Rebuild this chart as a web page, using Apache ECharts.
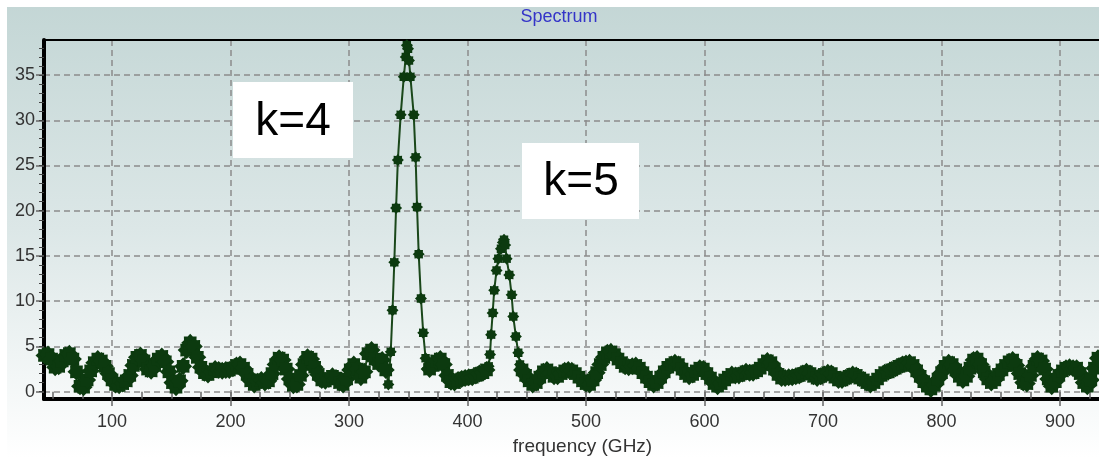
<!DOCTYPE html>
<html><head><meta charset="utf-8">
<script src="https://cdn.jsdelivr.net/npm/echarts@6/dist/echarts.min.js"></script>
<style>html,body{margin:0;padding:0;background:#fff}#c{width:1099px;height:458px}</style>
</head><body><div id="c"></div>
<script>
// ---- chart text ----
const chartTitle = 'Spectrum';
const xAxisName = 'frequency (GHz)';
const annotations = ['k=4', 'k=5'];

// ---- tick labels ----
const xTickLabels = [100, 200, 300, 400, 500, 600, 700, 800, 900];
const xMinorTicks = [50, 75, 100, 125, 150, 175, 200, 225, 250, 275, 300, 325, 350, 375, 400, 425, 450, 475, 500, 525, 550, 575, 600, 625, 650, 675, 700, 725, 750, 775, 800, 825, 850, 875, 900, 925];
const yTickLabels = [0, 5, 10, 15, 20, 25, 30, 35];
const yMinorTicks = [0, 1, 2, 3, 4, 5, 6, 7, 8, 9, 10, 11, 12, 13, 14, 15, 16, 17, 18, 19, 20, 21, 22, 23, 24, 25, 26, 27, 28, 29, 30, 31, 32, 33, 34, 35, 36, 37, 38];

// ---- series values ----
// baseline 43..331 GHz, sampled every 3 GHz
const baseAStart = 43, baseAStep = 3;
const baseAValues = [
  4.0, 4.1, 3.6, 2.7, 2.8, 3.4, 4.0, 4.2, 3.6, 2.2,
  0.6, 0.5, 1.3, 2.3, 3.2, 3.6, 3.4, 2.8, 2.0, 1.3,
  0.8, 0.7, 0.9, 1.2, 1.8, 2.9, 3.8, 4.0, 3.4, 2.5,
  2.3, 2.9, 3.6, 3.9, 3.3, 2.2, 1.0, 0.5, 1.2, 2.8,
  4.6, 5.4, 5.0, 3.8, 2.7, 2.1, 1.9, 2.2, 2.5, 2.4,
  2.3, 2.4, 2.4, 2.6, 2.9, 3.0, 2.6, 1.9, 1.2, 0.8,
  1.1, 1.3, 1.0, 1.2, 2.0, 3.0, 3.7, 3.5, 2.5, 1.4,
  0.7, 0.8, 1.8, 3.0, 3.8, 3.6, 2.7, 1.9, 1.3, 1.2,
  1.4, 1.7, 1.5, 1.0, 0.8, 1.4, 2.4, 3.0, 2.5, 1.6,
  2.2, 4.2, 4.6, 3.6, 3.1, 3.5, 2.4
];
// k=4 peak: [frequency, amplitude]
const peakK4 = [
  [333.2, 0.8], [335.2, 4.4], [336.7, 9.0], [338.2, 14.3], [339.7, 20.3], [341.2, 25.6],
  [343.6, 30.6], [346.2, 34.8], [347.9, 37.0], [348.8, 38.3], [349.8, 37.9], [350.6, 36.6],
  [351.8, 34.8], [354.6, 30.6], [356.2, 25.9], [357.4, 20.4], [358.8, 15.2], [360.7, 10.3],
  [362.6, 6.5], [364.6, 3.7], [366.4, 2.6]
];
// baseline 368..416 GHz, every 3 GHz
const baseBStart = 368, baseBStep = 3;
const baseBValues = [2.5, 2.9, 3.4, 3.6, 3.0, 1.8, 1.1, 1.0, 1.3, 1.4, 1.5, 1.6, 1.6, 1.8, 2.0, 2.1, 2.4];
// k=5 peak
const peakK5 = [
  [417.8, 2.8], [419.0, 4.1], [419.9, 6.3], [421.2, 8.7], [422.5, 11.2], [424.5, 13.4],
  [426.0, 14.7], [428.2, 15.8], [429.8, 16.5], [430.8, 16.8], [431.8, 16.2], [433.0, 14.7],
  [435.2, 12.9], [437.2, 10.7], [438.6, 8.3], [440.8, 6.1], [442.8, 4.3], [444.3, 3.0]
];
// baseline 446..932 GHz, every 3 GHz
const baseCStart = 446, baseCStep = 3;
const baseCValues = [
  2.4, 1.8, 1.2, 0.8, 1.0, 1.6, 2.2, 2.4, 2.1, 1.7,
  1.7, 2.0, 2.3, 2.4, 2.3, 2.0, 1.6, 1.2, 0.9, 0.8,
  1.3, 2.1, 3.0, 3.8, 4.3, 4.4, 4.1, 3.6, 3.2, 2.8,
  2.7, 2.8, 2.9, 2.6, 2.1, 1.6, 1.1, 0.8, 1.0, 1.6,
  2.2, 2.7, 3.0, 3.2, 3.0, 2.5, 2.0, 1.7, 1.9, 2.3,
  2.6, 2.5, 2.0, 1.5, 0.9, 0.6, 0.9, 1.3, 1.6, 1.9,
  1.8, 1.8, 2.0, 2.2, 2.1, 2.1, 2.3, 2.6, 3.0, 3.4,
  3.2, 2.5, 1.9, 1.5, 1.5, 1.6, 1.6, 1.7, 1.8, 2.0,
  2.2, 2.0, 1.7, 1.5, 1.7, 1.9, 2.1, 2.0, 1.6, 1.3,
  1.3, 1.5, 1.7, 1.9, 1.8, 1.5, 1.3, 1.0, 0.8, 1.0,
  1.4, 1.8, 2.1, 2.2, 2.4, 2.6, 2.8, 3.0, 3.1, 3.2,
  2.9, 2.3, 1.7, 1.1, 0.6, 0.3, 0.7, 1.4, 2.1, 2.8,
  3.2, 3.0, 2.4, 1.7, 1.3, 1.7, 2.6, 3.5, 3.6, 3.0,
  2.2, 1.4, 1.0, 1.3, 1.9, 2.4, 2.9, 3.3, 3.5, 2.9,
  2.0, 1.0, 0.9, 1.8, 2.8, 3.6, 3.4, 2.5, 1.4, 0.6,
  1.1, 1.8, 2.3, 2.6, 2.7, 2.6, 2.6, 2.0, 1.0, 0.6,
  1.3, 2.6, 3.7
];

// ---- assemble series ----
const points = [];
const peakIndex = new Set();
baseAValues.forEach((v, i) => points.push([baseAStart + i * baseAStep, v]));
peakK4.forEach(p => { peakIndex.add(points.length); points.push(p); });
baseBValues.forEach((v, i) => points.push([baseBStart + i * baseBStep, v]));
peakK5.forEach(p => { peakIndex.add(points.length); points.push(p); });
baseCValues.forEach((v, i) => points.push([baseCStart + i * baseCStep, v]));

const FONT = '"Liberation Sans", Arial, sans-serif';
const X_MIN = 42.6, X_MAX = 935.4, Y_MIN = -0.81, Y_MAX = 38.87;
const starPath = 'path://M20 10 L16.93 12.87 L17.07 17.07 L12.87 16.93 L10 20 L7.13 16.93 L2.93 17.07 L3.07 12.87 L0 10 L3.07 7.13 L2.93 2.93 L7.13 3.07 L10 0 L12.87 3.07 L17.07 2.93 L16.93 7.13 Z';
const gridDash = { color: '#8c8c8c', width: 1.5, type: [6, 4] };

const chart = echarts.init(document.getElementById('c'), null, { renderer: 'canvas' });
chart.setOption({
  animation: false,
  backgroundColor: {
    type: 'linear', x: 0, y: 0, x2: 0, y2: 1,
    colorStops: [{ offset: 0, color: '#c3d6d5' }, { offset: 0.5, color: '#dce7e7' }, { offset: 1, color: '#ffffff' }]
  },
  title: {
    text: chartTitle, left: 559, top: 8, textAlign: 'center', padding: 0,
    textStyle: { color: '#3434c8', fontSize: 18, fontWeight: 'normal', fontFamily: FONT }
  },
  grid: { left: 44, right: -3, top: 40, bottom: 59, containLabel: false, outerBoundsMode: 'none' },
  xAxis: [
    {
      type: 'value', position: 'bottom', min: X_MIN, max: X_MAX,
      name: xAxisName, nameLocation: 'middle', nameGap: 38,
      nameTextStyle: { color: '#333', fontSize: 19, fontFamily: FONT, padding: [0, 0, 0, 19] },
      axisLine: { show: true, onZero: false, lineStyle: { color: '#000', width: 4 } },
      axisTick: { show: true, customValues: xTickLabels, length: 7, lineStyle: { color: '#666', width: 1.5 } },
      axisLabel: { show: true, customValues: xTickLabels, fontSize: 18, color: '#333', fontFamily: FONT, margin: 14 },
      splitLine: { show: true, lineStyle: gridDash }
    },
    {
      type: 'value', position: 'bottom', min: X_MIN, max: X_MAX,
      axisLine: { show: false },
      axisTick: { show: true, customValues: xMinorTicks, length: 7, lineStyle: { color: '#666', width: 1.5 } },
      axisLabel: { show: false }, splitLine: { show: false }
    },
    {
      type: 'value', position: 'top', min: X_MIN, max: X_MAX,
      axisLine: { show: true, onZero: false, lineStyle: { color: '#000', width: 2 } },
      axisTick: { show: false }, axisLabel: { show: false }, splitLine: { show: false }
    }
  ],
  yAxis: [
    {
      type: 'value', position: 'left', min: Y_MIN, max: Y_MAX,
      axisLine: { show: true, onZero: false, lineStyle: { color: '#000', width: 4 } },
      axisTick: { show: true, customValues: yTickLabels, length: 8, lineStyle: { color: '#666', width: 1.5 } },
      axisLabel: { show: true, customValues: yTickLabels, fontSize: 18, color: '#333', fontFamily: FONT, margin: 9 },
      splitLine: { show: true, lineStyle: gridDash }
    },
    {
      type: 'value', position: 'left', min: Y_MIN, max: Y_MAX,
      axisLine: { show: false },
      axisTick: { show: true, customValues: yMinorTicks, length: 5, lineStyle: { color: '#444', width: 1 } },
      axisLabel: { show: false }, splitLine: { show: false }
    }
  ],
  series: [{
    type: 'line', xAxisIndex: 0, yAxisIndex: 0, data: points,
    symbol: starPath,
    symbolSize: (val, params) => (peakIndex.has(params.dataIndex) ? 12 : 18),
    showSymbol: true, showAllSymbol: true,
    lineStyle: { color: '#1a471a', width: 2 },
    itemStyle: { color: '#0c3a0f' },
    silent: true, clip: true, z: 3
  }],
  graphic: [
    { type: 'rect', shape: { x: 0, y: 0, width: 1099, height: 7 }, style: { fill: '#ffffff' }, silent: true, z: -1 },
    { type: 'rect', shape: { x: 0, y: 0, width: 7, height: 458 }, style: { fill: '#ffffff' }, silent: true, z: -1 },
    { type: 'rect', shape: { x: 233, y: 82, width: 120, height: 76 }, style: { fill: '#ffffff' }, silent: true, z: 100 },
    { type: 'text', x: 293, y: 122, style: { text: annotations[0], fontSize: 46, fontFamily: FONT, fill: '#000', align: 'center', verticalAlign: 'middle' }, silent: true, z: 101 },
    { type: 'rect', shape: { x: 522, y: 143, width: 117, height: 76 }, style: { fill: '#ffffff' }, silent: true, z: 100 },
    { type: 'text', x: 581, y: 182, style: { text: annotations[1], fontSize: 46, fontFamily: FONT, fill: '#000', align: 'center', verticalAlign: 'middle' }, silent: true, z: 101 }
  ]
});
</script>
</body></html>
